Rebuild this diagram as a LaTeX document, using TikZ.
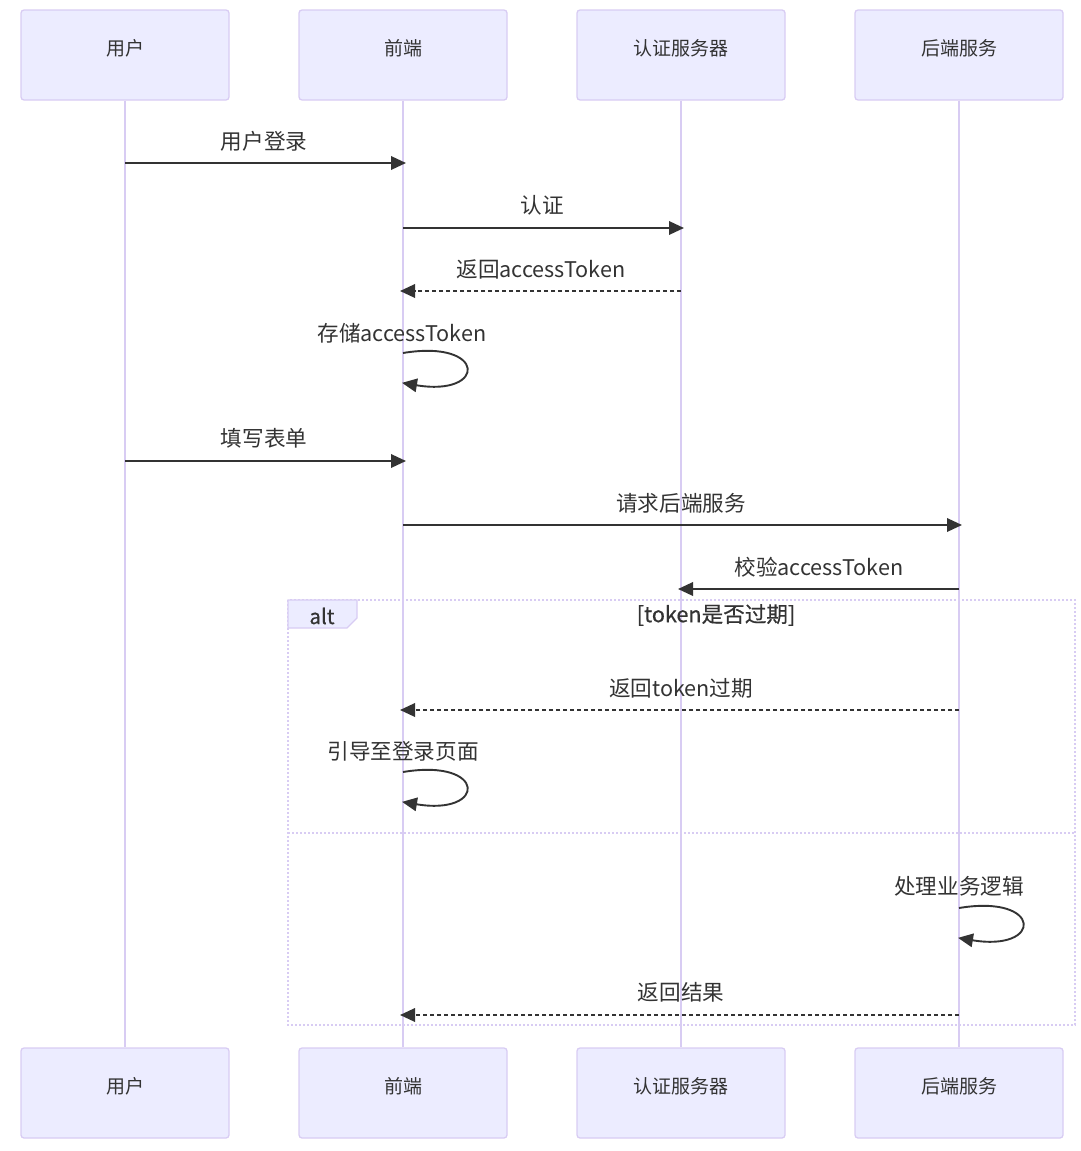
\documentclass[tikz,border=0pt]{standalone}
\usepackage{fontspec}
\setmainfont{Noto Sans CJK SC}
\usetikzlibrary{arrows.meta}
\definecolor{actfill}{HTML}{ECECFF}
\definecolor{actline}{HTML}{D8CCF3}
\definecolor{txt}{HTML}{333333}
\tikzset{
  actor/.style={draw=actline, line width=1.3pt, fill=actfill, rounded corners=3pt, minimum width=208pt, minimum height=90pt, inner sep=0pt},
  actlbl/.style={text=txt, font=\fontsize{19}{21}\selectfont, inner sep=0pt},
  life/.style={draw=actline, line width=2pt},
  msg/.style={draw=txt, line width=1.9pt, shorten >=-3pt, -{Triangle[length=15pt,width=13.5pt]}},
  rmsg/.style={msg, dash pattern=on 4pt off 3pt},
  lbl/.style={text=txt, font=\fontsize{21.6}{24}\selectfont, inner sep=0pt},
  altline/.style={draw=actline, line width=2pt, dash pattern=on 2pt off 2pt},
}
\begin{document}
\begin{tikzpicture}[x=1pt,y=-1pt]
\useasboundingbox (0,0) rectangle (1080,1151);
% actors
\foreach \n/\x/\t in {u/125/用户, f/403/前端, a/681/认证服务器, b/959/后端服务}{
  \node[actor] (\n1) at (\x,55) {};
  \node[actlbl] (\n1t) at (\x,48) {\t};
  \node[actor] (\n2) at (\x,1093) {};
  \node[actlbl] (\n2t) at (\x,1086) {\t};
}
\foreach \n in {u,f,a,b}{ \draw[life] (\n1.south) -- (\n2.north); }
% alt frame
\draw[altline] (288,600) rectangle (1075,1025);
\draw[altline] (288,833) -- (1075,833);
\draw[draw=actline, line width=1.3pt, fill=actfill] (288,600) -- (357,600) -- (357,618) -- (347,628) -- (288,628) -- cycle;
\node[lbl, font=\fontsize{20.5}{22}\selectfont\addfontfeatures{FakeBold=0.6}] (altlbl) at (322,616) {alt};
\node[lbl, font=\fontsize{21.6}{24}\selectfont\addfontfeatures{FakeBold=0.6}] (cond) at (716,615) {[token是否过期]};
% message coordinates
\coordinate (m1a) at (125,163); \coordinate (m1b) at (403,163);
\coordinate (m2a) at (403,228); \coordinate (m2b) at (681,228);
\coordinate (m3a) at (681,291); \coordinate (m3b) at (403,291);
\coordinate (m4a) at (403,353); \coordinate (m4b) at (403,383);
\coordinate (m5a) at (125,461); \coordinate (m5b) at (403,461);
\coordinate (m6a) at (403,525); \coordinate (m6b) at (959,525);
\coordinate (m7a) at (959,589); \coordinate (m7b) at (681,589);
\coordinate (m8a) at (959,710); \coordinate (m8b) at (403,710);
\coordinate (m9a) at (403,772); \coordinate (m9b) at (403,802);
\coordinate (m10a) at (959,908); \coordinate (m10b) at (959,938);
\coordinate (m11a) at (959,1015); \coordinate (m11b) at (403,1015);
% messages
\draw[msg] (m1a) -- (m1b);
\node[lbl] (l1) at (264,141) {用户登录};
\draw[msg] (m2a) -- (m2b);
\node[lbl] (l2) at (542,205) {认证};
\draw[rmsg] (m3a) -- (m3b);
\node[lbl] (l3) at (541,269) {返回accessToken};
\draw[msg, shorten >=-1pt] (m4a) .. controls (487,339) and (487,397) .. (m4b);
\node[lbl] (l4) at (402,333) {存储accessToken};
\draw[msg] (m5a) -- (m5b);
\node[lbl] (l5) at (264,438) {填写表单};
\draw[msg] (m6a) -- (m6b);
\node[lbl] (l6) at (681,503) {请求后端服务};
\draw[msg] (m7a) -- (m7b);
\node[lbl] (l7) at (819,567) {校验accessToken};
\draw[rmsg] (m8a) -- (m8b);
\node[lbl] (l8) at (681,688) {返回token过期};
\draw[msg, shorten >=-1pt] (m9a) .. controls (487,758) and (487,816) .. (m9b);
\node[lbl] (l9) at (403,751) {引导至登录页面};
\draw[msg, shorten >=-1pt] (m10a) .. controls (1043,894) and (1043,952) .. (m10b);
\node[lbl] (l10) at (959,886) {处理业务逻辑};
\draw[rmsg] (m11a) -- (m11b);
\node[lbl] (l11) at (681,992) {返回结果};
\end{tikzpicture}
\end{document}
